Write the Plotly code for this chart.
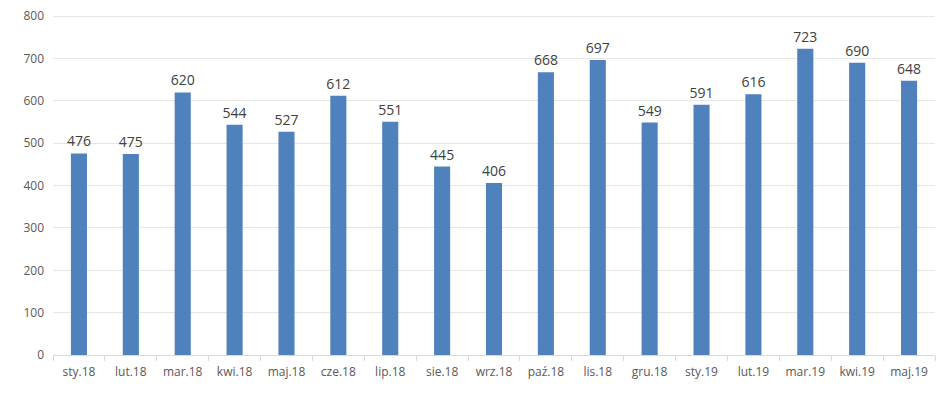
import plotly.graph_objects as go

categories = ["sty.18", "lut.18", "mar.18", "kwi.18", "maj.18", "cze.18", "lip.18", "sie.18",
              "wrz.18", "paź.18", "lis.18", "gru.18", "sty.19", "lut.19", "mar.19", "kwi.19", "maj.19"]
values = [476, 475, 620, 544, 527, 612, 551, 445, 406, 668, 697, 549, 591, 616, 723, 690, 648]
y_ticks = [0, 100, 200, 300, 400, 500, 600, 700, 800]

fig = go.Figure(go.Bar(
    x=categories, y=values,
    marker=dict(color="#4F81BD", line=dict(width=0)),
    text=[str(v) for v in values], textposition="outside",
    constraintext="none",
    textfont=dict(family="Open Sans, Calibri, sans-serif", size=14, color="#404040"),
    cliponaxis=False,
))

fig.update_layout(
    width=945, height=395,
    margin=dict(l=53, r=10, t=15, b=40),
    paper_bgcolor="white", plot_bgcolor="white",
    bargap=0.69,
    showlegend=False,
    font=dict(family="Open Sans, Calibri, sans-serif", size=12, color="#595959"),
    xaxis=dict(
        showgrid=False, showline=True, linecolor="#D9D9D9", linewidth=1,
        ticks="outside", ticklen=5, tickcolor="#D9D9D9", tickson="boundaries",
        tickfont=dict(size=12, color="#595959"), automargin=False,
        ticklabelstandoff=6,
    ),
    yaxis=dict(
        range=[0, 803], tickvals=y_ticks, showgrid=True, gridcolor="#E6E6E6", gridwidth=1,
        zeroline=False, showline=False, ticks="", automargin=False,
        ticklabeloverflow="allow",
        tickfont=dict(size=12, color="#595959"), ticklabelstandoff=8,
    ),
)

fig.write_html("out.html", config={"displayModeBar": False},
               post_script="document.body.style.margin='0';")
